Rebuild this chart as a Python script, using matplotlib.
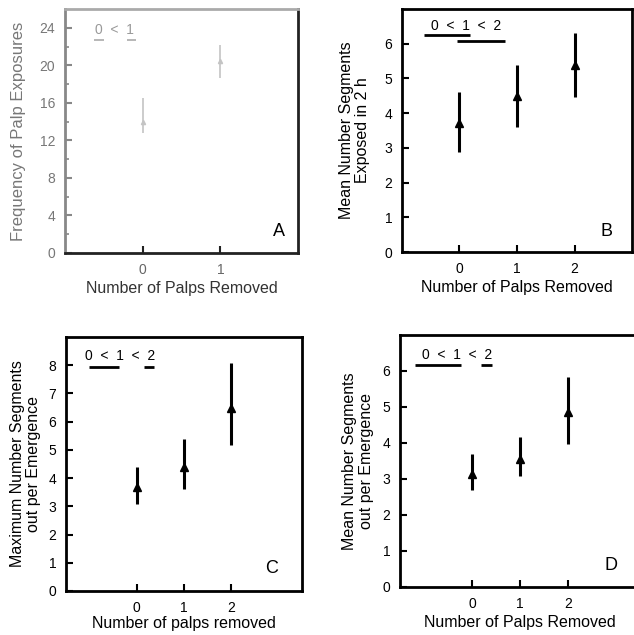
import matplotlib
matplotlib.use("Agg")
from matplotlib import pyplot as plt

plt.rcParams['font.family'] = ['Liberation Sans', 'DejaVu Sans']

palps = [0, 1, 2]

# panel A - frequency of palp exposures
a_x = [0, 1]
a_mean = [14.0, 20.5]
a_lo = [12.8, 18.7]
a_hi = [16.5, 22.2]

# panel B - mean number segments exposed in 2 h
b_mean = [3.72, 4.5, 5.38]
b_lo = [2.88, 3.6, 4.47]
b_hi = [4.62, 5.38, 6.3]

# panel C - maximum number segments out per emergence
c_mean = [3.7, 4.38, 6.5]
c_lo = [3.1, 3.63, 5.16]
c_hi = [4.41, 5.37, 8.07]

# panel D - mean number segments out per emergence
d_mean = [3.14, 3.56, 4.85]
d_lo = [2.69, 3.08, 3.98]
d_hi = [3.7, 4.17, 5.83]

LAB = 11.5

fig = plt.figure(figsize=(6.34, 6.35), dpi=100)
axA = fig.add_axes([0.1025, 0.6016, 0.3675, 0.384])
axB = fig.add_axes([0.634, 0.6031, 0.363, 0.3827])
axC = fig.add_axes([0.1041, 0.0693, 0.372, 0.400])
axD = fig.add_axes([0.631, 0.0756, 0.3785, 0.397])


def style(ax, col='black', lcol='black'):
    for s in ax.spines.values():
        s.set_linewidth(2)
        s.set_color(col)
    ax.tick_params(direction='in', length=5, width=1.5, labelsize=10,
                   colors=col, labelcolor=lcol, pad=7)
    ax.tick_params(axis='y', which='minor', direction='in', length=3, width=1.2, colors=col)


def errs(ax, x, m, lo, hi, col='black', lw=2.2, ms=6):
    ax.vlines(x, lo, hi, color=col, lw=lw)
    ax.plot(x, m, '^', color=col, ms=ms)


# A (faded in the scan)
errs(axA, a_x, a_mean, a_lo, a_hi, col='#c4c4c4', lw=1.2, ms=3)
axA.set_xlim(-1, 2)
axA.set_ylim(0, 26)
axA.set_xticks([0, 1])
axA.set_yticks(range(0, 25, 4))
axA.set_yticks(range(2, 25, 4), minor=True)
style(axA, col='#222222', lcol='#666666')
axA.spines['top'].set_color('#aaaaaa')
axA.spines['left'].set_color('#888888')
axA.tick_params(axis='y', colors='#888888', labelcolor='#777777')
axA.tick_params(axis='y', which='minor', colors='#888888')
axA.set_ylabel('Frequency of Palp Exposures', fontsize=12, color='#777777', labelpad=10)
axA.set_xlabel('Number of Palps Removed', fontsize=LAB, color='#333333', labelpad=3)
axA.text(-0.36, 23.8, '0  <  1', ha='center', va='center', fontsize=10, color='#999999')
axA.hlines([22.7, 22.7], [-0.63, -0.2], [-0.5, -0.08], color='#aaaaaa', lw=1.2)
axA.text(1.75, 2.3, 'A', fontsize=13, ha='center', va='center')

# B
errs(axB, palps, b_mean, b_lo, b_hi)
axB.set_xlim(-1, 3)
axB.set_ylim(0, 7)
axB.set_xticks(palps)
axB.set_yticks(range(0, 7))
style(axB)
axB.set_ylabel('Mean Number Segments\nExposed in 2 h', fontsize=LAB, labelpad=10, linespacing=1.15)
axB.set_xlabel('Number of Palps Removed', fontsize=LAB, labelpad=3)
axB.text(0.11, 6.51, '0  <  1  <  2', ha='center', va='center', fontsize=10)
axB.hlines([6.25, 6.07], [-0.61, -0.05], [0.19, 0.79], color='black', lw=2)
axB.text(2.55, 0.6, 'B', fontsize=13, ha='center', va='center')

# C
errs(axC, palps, c_mean, c_lo, c_hi)
axC.set_xlim(-1.5, 3.5)
axC.set_ylim(0, 9)
axC.set_xticks(palps)
axC.set_yticks(range(0, 9))
style(axC)
axC.set_ylabel('Maximum Number Segments\nout per Emergence', fontsize=LAB, labelpad=5, linespacing=1.15)
axC.set_xlabel('Number of palps removed', fontsize=LAB, labelpad=1)
axC.text(-0.36, 8.33, '0  <  1  <  2', ha='center', va='center', fontsize=10)
axC.hlines([7.93, 7.93], [-1.02, 0.15], [-0.38, 0.36], color='black', lw=2)
axC.text(2.85, 0.8, 'C', fontsize=13, ha='center', va='center')

# D
errs(axD, palps, d_mean, d_lo, d_hi)
axD.set_xlim(-1.5, 3.5)
axD.set_ylim(0, 7)
axD.set_xticks(palps)
axD.set_yticks(range(0, 7))
style(axD)
axD.set_ylabel('Mean Number Segments\nout per Emergence', fontsize=LAB, labelpad=6, linespacing=1.15)
axD.set_xlabel('Number of Palps Removed', fontsize=LAB, labelpad=3)
axD.text(-0.32, 6.44, '0  <  1  <  2', ha='center', va='center', fontsize=10)
axD.hlines([6.16, 6.16], [-1.19, 0.19], [-0.23, 0.42], color='black', lw=2)
axD.text(2.9, 0.6, 'D', fontsize=13, ha='center', va='center')

fig.savefig('out.png', dpi=100)
